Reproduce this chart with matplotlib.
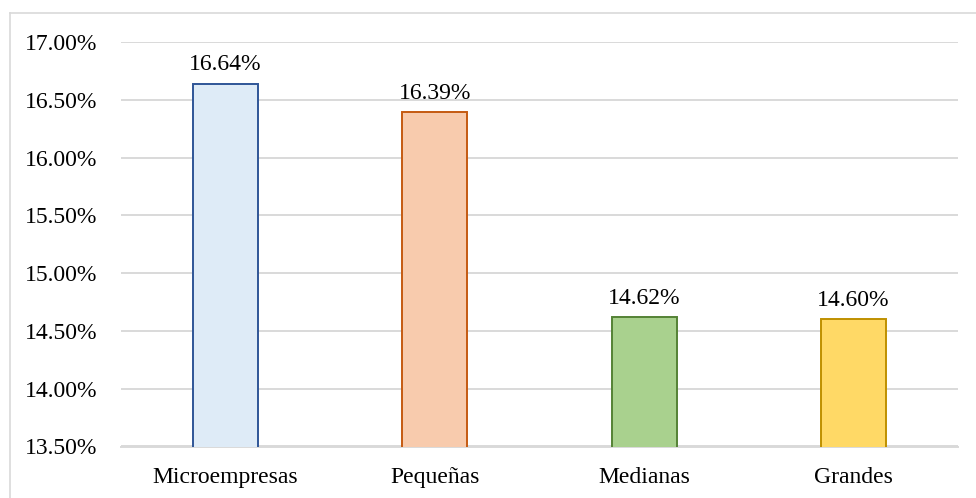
import matplotlib
matplotlib.use("Agg")
import matplotlib.pyplot as plt
from matplotlib.ticker import FuncFormatter, MultipleLocator
from matplotlib.lines import Line2D

categories = ["Microempresas", "Pequeñas", "Medianas", "Grandes"]
values = [16.64, 16.39, 14.62, 14.60]
fill_colors = ["#DEEBF7", "#F8CBAD", "#A9D18E", "#FFD966"]
edge_colors = ["#2F5597", "#C55A11", "#548235", "#BF9000"]

plt.rcParams["font.family"] = ["Liberation Serif", "DejaVu Serif"]

W, H = 976, 498
FS = 17
fig = plt.figure(figsize=(W / 100, H / 100), dpi=100)
ax = fig.add_axes([121 / W, 1 - 446.5 / H, (958 - 121) / W, (446.5 - 42) / H])

x = range(len(categories))
ax.bar(x, values, width=0.31, color=fill_colors, edgecolor=edge_colors,
       linewidth=1.4, zorder=3)

for xi, v in zip(x, values):
    ax.annotate(f"{v:.2f}%", (xi, v), xytext=(0, 6), textcoords="offset points",
                ha="center", va="bottom", fontsize=FS, color="#000000")

ax.set_ylim(13.5, 17.0)
ax.set_xlim(-0.5, len(categories) - 0.5)
ax.yaxis.set_major_locator(MultipleLocator(0.5))
ax.yaxis.set_major_formatter(FuncFormatter(lambda v, _: f"{v:.2f}%"))
ax.grid(axis="y", color="#D9D9D9", linewidth=1.4, zorder=0)
for s in ["left", "right", "top"]:
    ax.spines[s].set_visible(False)
ax.spines["bottom"].set_color("#D9D9D9")
ax.spines["bottom"].set_linewidth(1.4)
ax.set_xticks(list(x))
ax.set_xticklabels(categories)
ax.tick_params(axis="both", length=0, labelsize=FS, colors="#000000")
ax.tick_params(axis="y", pad=17)
ax.tick_params(axis="x", pad=15)

# outer chart frame
fig.add_artist(Line2D([9.5 / W, 9.5 / W], [0, 1 - 13.5 / H], transform=fig.transFigure,
                      color="#D9D9D9", linewidth=1.2))
fig.add_artist(Line2D([9.5 / W, 1], [1 - 13.5 / H, 1 - 13.5 / H], transform=fig.transFigure,
                      color="#D9D9D9", linewidth=1.2))

fig.savefig("out.png", dpi=100)
